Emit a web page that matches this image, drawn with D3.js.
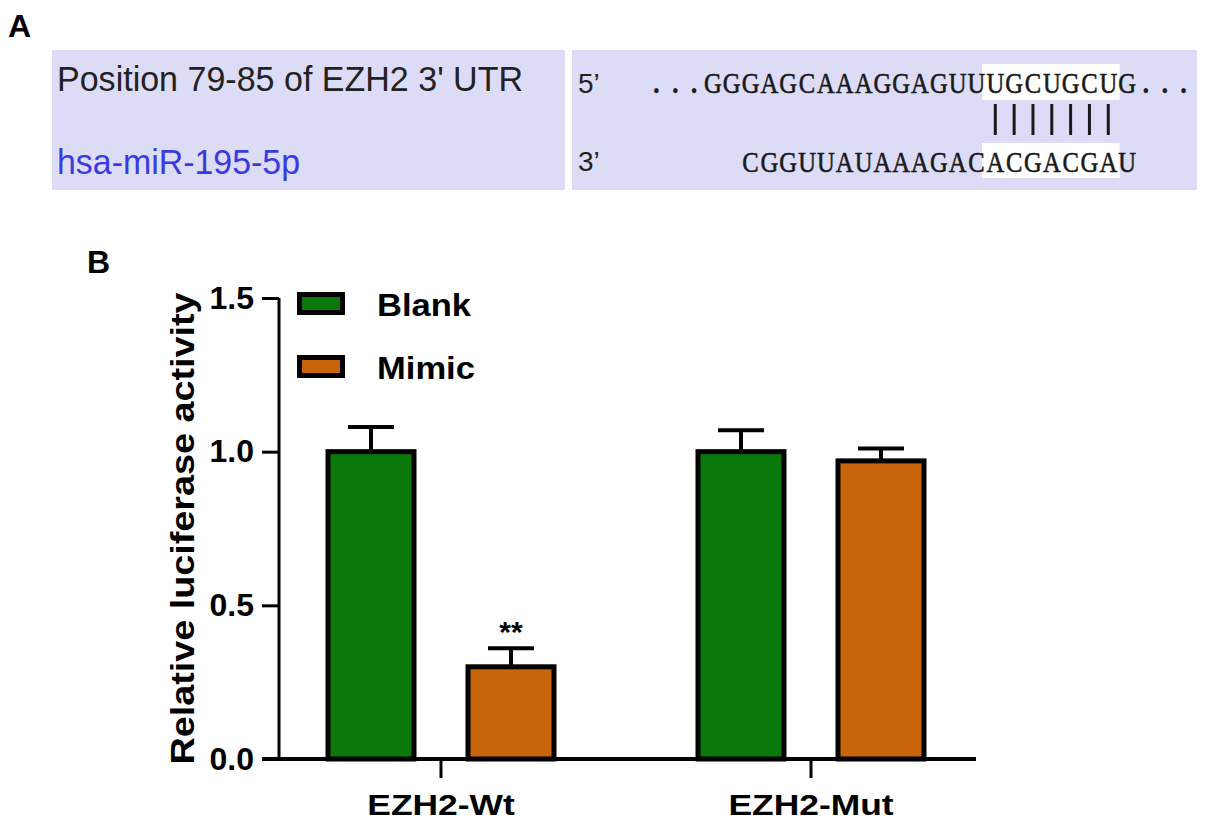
<!DOCTYPE html>
<html><head><meta charset="utf-8">
<script src="https://cdn.jsdelivr.net/npm/d3@7/dist/d3.min.js"></script>
<style>body{margin:0;background:#fff}svg{display:block}</style>
</head><body>
<svg id="c" width="1205" height="825"></svg>
<script>
// ---- Panel A text data ----
const utrLabel = "Position 79-85 of EZH2 3' UTR";
const mirLabel = "hsa-miR-195-5p";
const utrSeq = "...GGGAGCAAAGGAGUUUGCUGCUG...";
const mirSeq = "CGGUUAUAAAGACACGACGAU";
const mirOffset = 5;          // alignment of miRNA under UTR (characters)
const seedStart = 18, seedLen = 7; // paired positions in UTR string

// ---- Panel B data ----
const categories = ["EZH2-Wt", "EZH2-Mut"];
const series = ["Blank", "Mimic"];
const blankValues = [1.00, 1.00];
const blankErrors = [0.08, 0.07];
const mimicValues = [0.30, 0.97];
const mimicErrors = [0.06, 0.04];
const significance = ["**", ""];
const yTicks = [0.0, 0.5, 1.0, 1.5];
const colors = {Blank: "#0a780a", Mimic: "#c8640a"};

const svg = d3.select("#c");
const font = "Liberation Sans, Arial, sans-serif";

// ================= Panel A =================
svg.append("text").attr("x", 8).attr("y", 37).text("A")
  .attr("font-family", font).attr("font-weight", "bold").attr("font-size", 32);

const boxFill = "#dcdcf6";
svg.append("rect").attr("x", 52).attr("y", 50).attr("width", 513).attr("height", 140).attr("fill", boxFill);
svg.append("rect").attr("x", 572).attr("y", 50).attr("width", 625).attr("height", 140).attr("fill", boxFill);

svg.append("text").attr("x", 57).attr("y", 91).text(utrLabel)
  .attr("font-family", font).attr("font-size", 35).attr("fill", "#222")
  .attr("textLength", 466).attr("lengthAdjust", "spacingAndGlyphs");
svg.append("text").attr("x", 57).attr("y", 174).text(mirLabel)
  .attr("font-family", font).attr("font-size", 35).attr("fill", "#3a3ae0")
  .attr("textLength", 243).attr("lengthAdjust", "spacingAndGlyphs");

svg.append("text").attr("x", 578).attr("y", 93).text("5\u2019")
  .attr("font-family", font).attr("font-size", 28).attr("fill", "#222");
svg.append("text").attr("x", 578).attr("y", 171).text("3\u2019")
  .attr("font-family", font).attr("font-size", 28).attr("fill", "#222");

const cx = d3.scaleBand().domain(d3.range(utrSeq.length)).range([647, 1193]);
const chX = i => cx(i) + cx.bandwidth() / 2;

// highlight behind seed
svg.append("rect").attr("x", cx(seedStart) - 4).attr("y", 64)
  .attr("width", cx.bandwidth() * seedLen + 6).attr("height", 36).attr("fill", "#fff");
svg.append("rect").attr("x", cx(seedStart) - 4).attr("y", 143)
  .attr("width", cx.bandwidth() * seedLen + 6).attr("height", 35).attr("fill", "#fff");

const seqFont = "Liberation Serif, Times New Roman, serif";
svg.append("g").selectAll("text").data(utrSeq.split(""))
  .join("text").attr("transform", (d, i) => `translate(${chX(i)},93) scale(0.82,1)`)
  .attr("text-anchor", "middle")
  .attr("font-family", seqFont).attr("font-size", 30).attr("fill", "#1a1a1a")
  .attr("stroke", "#1a1a1a").attr("stroke-width", 0.6)
  .attr("font-weight", d => d === "." ? "bold" : "normal").text(d => d);
svg.append("g").selectAll("text").data(mirSeq.split(""))
  .join("text").attr("transform", (d, i) => `translate(${chX(i + mirOffset)},172) scale(0.82,1)`)
  .attr("text-anchor", "middle")
  .attr("font-family", seqFont).attr("font-size", 30).attr("fill", "#1a1a1a")
  .attr("stroke", "#1a1a1a").attr("stroke-width", 0.6).text(d => d);
svg.append("g").selectAll("line").data(d3.range(seedStart, seedStart + seedLen))
  .join("line").attr("x1", chX).attr("x2", chX).attr("y1", 104).attr("y2", 135)
  .attr("stroke", "#1a1a1a").attr("stroke-width", 3);

// ================= Panel B =================
svg.append("text").attr("x", 87).attr("y", 273).text("B")
  .attr("font-family", font).attr("font-weight", "bold").attr("font-size", 32);

const y = d3.scaleLinear().domain([0, 1.5]).range([759, 298]);
const x0 = d3.scaleBand().domain(categories).range([256, 996]);
const x1 = d3.scaleBand().domain(series).range([45, 325]);
const barW = 86;

const data = categories.map((c, i) => ({
  cat: c,
  sig: significance[i],
  bars: [
    {s: "Blank", v: blankValues[i], e: blankErrors[i]},
    {s: "Mimic", v: mimicValues[i], e: mimicErrors[i]}
  ]
}));

const groups = svg.append("g").selectAll("g").data(data).join("g")
  .attr("transform", d => `translate(${x0(d.cat)},0)`);

const bars = groups.selectAll("g.bar").data(d => d.bars).join("g").attr("class", "bar");
const bx = d => x1(d.s) + x1.bandwidth() / 2;
// error bars (upper only)
bars.append("line")
  .attr("x1", bx).attr("x2", bx)
  .attr("y1", d => y(d.v)).attr("y2", d => y(d.v + d.e))
  .attr("stroke", "#000").attr("stroke-width", 4);
bars.append("line")
  .attr("x1", d => bx(d) - 23).attr("x2", d => bx(d) + 23)
  .attr("y1", d => y(d.v + d.e)).attr("y2", d => y(d.v + d.e))
  .attr("stroke", "#000").attr("stroke-width", 4);
bars.append("rect")
  .attr("x", d => bx(d) - barW / 2)
  .attr("width", barW)
  .attr("y", d => y(d.v)).attr("height", d => y(0) - y(d.v))
  .attr("fill", d => colors[d.s]).attr("stroke", "#000").attr("stroke-width", 5);

// significance
groups.append("text")
  .attr("x", x1("Mimic") + x1.bandwidth() / 2)
  .attr("y", d => y(d.bars[1].v + d.bars[1].e) - 6)
  .attr("text-anchor", "middle").attr("font-family", font).attr("font-weight", "bold")
  .attr("font-size", 30).text(d => d.sig);

// y axis
const yAxis = svg.append("g").attr("transform", "translate(279,0)")
  .call(d3.axisLeft(y).tickValues(yTicks).tickFormat(d3.format(".1f")).tickSize(17).tickPadding(8));
yAxis.select(".domain").attr("stroke-width", 3).attr("d", `M0,${y(1.5)}V${y(0)}`);
yAxis.selectAll(".tick line").attr("stroke-width", 3);
yAxis.selectAll(".tick text").attr("font-family", font).attr("font-weight", "bold").attr("font-size", 32).attr("fill", "#000");

// x axis
const xAxis = svg.append("g").attr("transform", `translate(0,${y(0)})`)
  .call(d3.axisBottom(x0).tickSize(19).tickPadding(0));
xAxis.select(".domain").attr("stroke-width", 4).attr("d", "M262,0H976");
xAxis.selectAll(".tick line").attr("stroke-width", 3);
xAxis.selectAll(".tick text").attr("font-family", font).attr("font-weight", "bold").attr("font-size", 30)
  .attr("fill", "#000").attr("dy", null).attr("y", 0)
  .attr("transform", "translate(0,56) scale(1.18,1)");

// y title
svg.append("text").attr("transform", `translate(194,${(y(0) + y(1.5)) / 2}) rotate(-90)`)
  .attr("text-anchor", "middle").attr("font-family", font).attr("font-weight", "bold")
  .attr("font-size", 33).attr("textLength", 472).attr("lengthAdjust", "spacingAndGlyphs")
  .text("Relative luciferase activity");

// legend
const leg = svg.append("g").selectAll("g").data(series).join("g")
  .attr("transform", (d, i) => `translate(297,${292 + i * 63})`);
leg.append("rect").attr("x", 2.5).attr("y", 2.5).attr("width", 43).attr("height", 18)
  .attr("fill", d => colors[d]).attr("stroke", "#000").attr("stroke-width", 5);
leg.append("text").attr("transform", "translate(80,24) scale(1.08,1)")
  .attr("font-family", font).attr("font-weight", "bold")
  .attr("font-size", 32).text(d => d);
</script>
</body></html>
